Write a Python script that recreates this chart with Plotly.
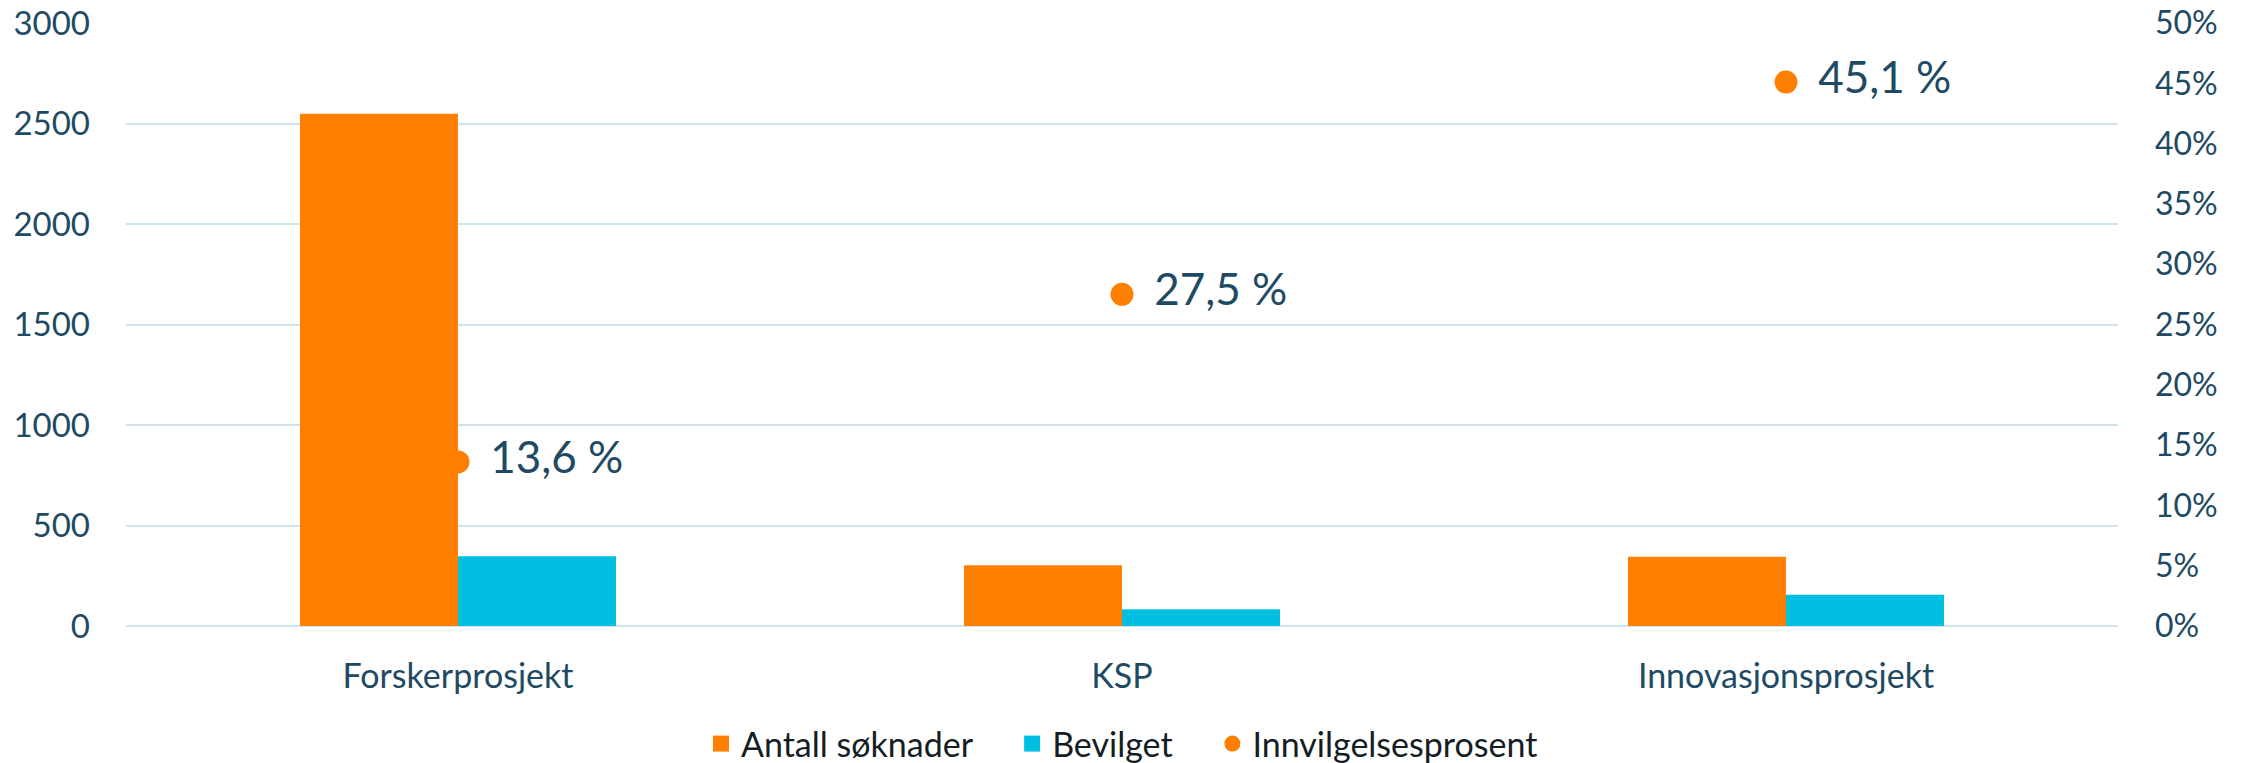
import plotly.graph_objects as go

categories = ["Forskerprosjekt", "KSP", "Innovasjonsprosjekt"]
antall_soknader = [2548, 302, 344]
bevilget = [347, 83, 155]
innvilgelsesprosent = [13.6, 27.5, 45.1]

left_ticks = [0, 500, 1000, 1500, 2000, 2500, 3000]

ORANGE = "#FF7F00"
BLUE = "#00BFE0"
TICK_COLOR = "#1E4A63"
GRID = "#CFE3EF"

pct_frac = [p / 100 for p in innvilgelsesprosent]
pct_text = ["\u00a0\u2009" + f"{p:.1f} %".replace(".", ",") for p in innvilgelsesprosent]

fig = go.Figure()
fig.add_trace(go.Bar(x=categories, y=antall_soknader, name="Antall søknader",
                     marker=dict(color=ORANGE, line=dict(width=0)), showlegend=False))
fig.add_trace(go.Bar(x=categories, y=bevilget, name="Bevilget",
                     marker=dict(color=BLUE, line=dict(width=0)), showlegend=False))
fig.add_trace(go.Scatter(x=categories, y=pct_frac, name="Innvilgelsesprosent", yaxis="y2",
                         mode="markers+text", text=pct_text, textposition="middle right",
                         textfont=dict(family="Lato", size=44, color=TICK_COLOR),
                         marker=dict(color=ORANGE, size=23), showlegend=False,
                         cliponaxis=False))

# legend entries
fig.add_trace(go.Scatter(x=[None], y=[None], mode="markers", name="Antall søknader\u00a0\u00a0\u00a0\u00a0",
                         marker=dict(color=ORANGE, symbol="square", size=21)))
fig.add_trace(go.Scatter(x=[None], y=[None], mode="markers", name="Bevilget\u00a0\u00a0\u00a0\u00a0",
                         marker=dict(color=BLUE, symbol="square", size=21)))
fig.add_trace(go.Scatter(x=[None], y=[None], mode="markers", name="Innvilgelsesprosent",
                         marker=dict(color=ORANGE, symbol="circle", size=21)))

# page body has an 8px default margin; figure size/margins compensate for it
fig.update_layout(
    width=2239, height=755,
    margin=dict(l=118, r=129, t=15, b=137, autoexpand=False),
    paper_bgcolor="white", plot_bgcolor="white",
    barmode="group", bargap=0.524, bargroupgap=0,
    font=dict(family="Lato", color=TICK_COLOR),
    xaxis=dict(type="category", showgrid=False, showline=False, zeroline=False,
               tickfont=dict(family="Lato", size=34, color=TICK_COLOR),
               ticks="", ticklabelstandoff=27),
    yaxis=dict(range=[0, 3000], tickvals=left_ticks, showgrid=True, gridcolor=GRID,
               gridwidth=2, zeroline=True, zerolinecolor=GRID, zerolinewidth=2,
               showline=False, ticks="", ticklabelstandoff=35, ticklabeloverflow="allow",
               tickfont=dict(family="Lato", size=33, color=TICK_COLOR)),
    yaxis2=dict(range=[0, 0.5], dtick=0.05, tickformat=".0%", overlaying="y", side="right",
                showgrid=False, zeroline=False, showline=False, ticks="",
                ticklabelstandoff=36, ticklabeloverflow="allow",
                tickfont=dict(family="Lato", size=32, color=TICK_COLOR)),
    legend=dict(orientation="h", xref="container", x=(1122 - 8) / 2239, xanchor="center",
                yref="container", y=1 - 736 / 755, yanchor="middle",
                font=dict(family="Lato", size=34, color="#141C24"),
                itemsizing="trace", traceorder="normal", itemwidth=30),
)

fig.write_html("out.html")
